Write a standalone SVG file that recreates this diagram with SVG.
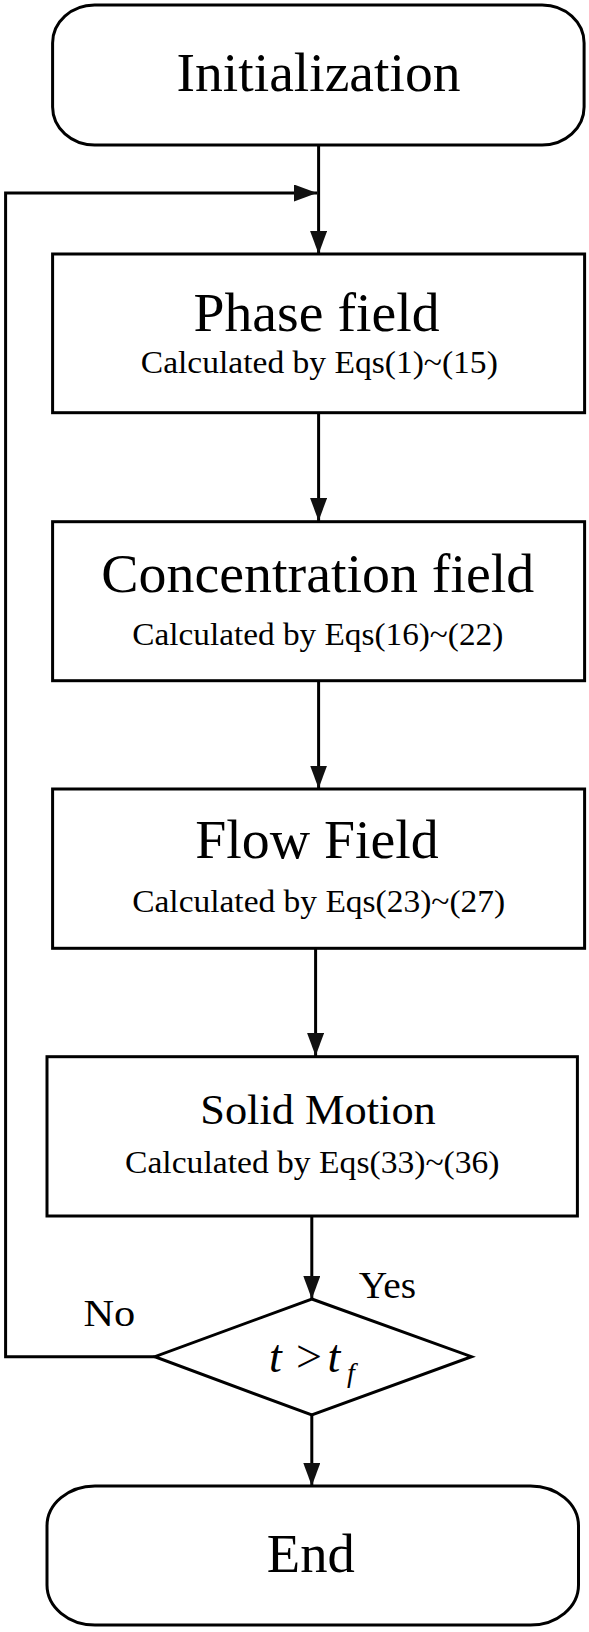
<svg xmlns="http://www.w3.org/2000/svg" width="589" height="1632" viewBox="0 0 589 1632">
<style>
.box{fill:#fff;stroke:#000;stroke-width:3}
.ln{fill:none;stroke:#000;stroke-width:3}
.t{font-family:"Liberation Serif","Times New Roman",serif;fill:#000;text-anchor:middle}
.ti{font-size:54px}
.sub{font-size:32px}
.lbl{font-family:"Liberation Serif","Times New Roman",serif;fill:#000;font-size:37px}
</style>
<defs>
<marker id="ah" markerUnits="userSpaceOnUse" markerWidth="24" markerHeight="18" refX="23" refY="8.5" orient="auto">
<path d="M0,0 L23,8.5 L0,17 z" fill="#111"/>
</marker>
</defs>
<rect width="589" height="1632" fill="#fff"/>
<g id="connectors">
<path class="ln" d="M318.6 145 V254" marker-end="url(#ah)"/>
<path class="ln" d="M318.6 412.7 V521" marker-end="url(#ah)"/>
<path class="ln" d="M318.6 680.7 V788.5" marker-end="url(#ah)"/>
<path class="ln" d="M315.6 948.3 V1056" marker-end="url(#ah)"/>
<path class="ln" d="M311.8 1216 V1299" marker-end="url(#ah)"/>
<path class="ln" d="M311.8 1415 V1486" marker-end="url(#ah)"/>
<path class="ln" d="M154.8 1356.7 H5.6 V193 H317" marker-end="url(#ah)"/>
</g>
<g id="init">
<rect class="box" x="52.6" y="5" width="531.5" height="140" rx="42" ry="38"/>
<text class="t ti" x="318.5" y="90.7" textLength="284" lengthAdjust="spacingAndGlyphs">Initialization</text>
</g>
<g id="phase">
<rect class="box" x="52.6" y="254" width="532" height="158.7"/>
<text class="t ti" x="316.5" y="330.7" textLength="246" lengthAdjust="spacingAndGlyphs">Phase field</text>
<text class="t sub" x="319.3" y="373.3" textLength="357" lengthAdjust="spacingAndGlyphs">Calculated by Eqs(1)~(15)</text>
</g>
<g id="concentration">
<rect class="box" x="52.6" y="521.7" width="532" height="159"/>
<text class="t ti" x="317.8" y="591.7" textLength="433" lengthAdjust="spacingAndGlyphs">Concentration field</text>
<text class="t sub" x="317.8" y="645" textLength="371" lengthAdjust="spacingAndGlyphs">Calculated by Eqs(16)~(22)</text>
</g>
<g id="flow">
<rect class="box" x="52.6" y="789" width="532" height="159.3"/>
<text class="t ti" x="317" y="858.3" textLength="243.5" lengthAdjust="spacingAndGlyphs">Flow Field</text>
<text class="t sub" x="318.7" y="911.7" textLength="373" lengthAdjust="spacingAndGlyphs">Calculated by Eqs(23)~(27)</text>
</g>
<g id="solid">
<rect class="box" x="47" y="1056.7" width="530.4" height="159.3"/>
<text class="t" style="font-size:42px" x="318" y="1124.3" textLength="235.6" lengthAdjust="spacingAndGlyphs">Solid Motion</text>
<text class="t sub" x="312.3" y="1173.3" textLength="374.5" lengthAdjust="spacingAndGlyphs">Calculated by Eqs(33)~(36)</text>
</g>
<g id="decision">
<polygon class="box" points="311.8,1299 471.5,1356.7 311.8,1415 154.8,1356.7"/>
<text class="lbl" style="font-size:46px" y="1371.7"><tspan x="269" font-style="italic">t</tspan><tspan x="296">&gt;</tspan><tspan x="327.5" font-style="italic">t</tspan><tspan x="347" dy="10" font-size="28" font-style="italic">f</tspan></text>
</g>
<g id="labels">
<text class="lbl" x="358.8" y="1298.3" textLength="57.4" lengthAdjust="spacingAndGlyphs">Yes</text>
<text class="lbl" x="83.4" y="1326" textLength="51.8" lengthAdjust="spacingAndGlyphs">No</text>
</g>
<g id="end">
<rect class="box" x="47" y="1486" width="531.5" height="139" rx="48" ry="40"/>
<text class="t ti" x="310.8" y="1571.7" textLength="88" lengthAdjust="spacingAndGlyphs">End</text>
</g>
</svg>
